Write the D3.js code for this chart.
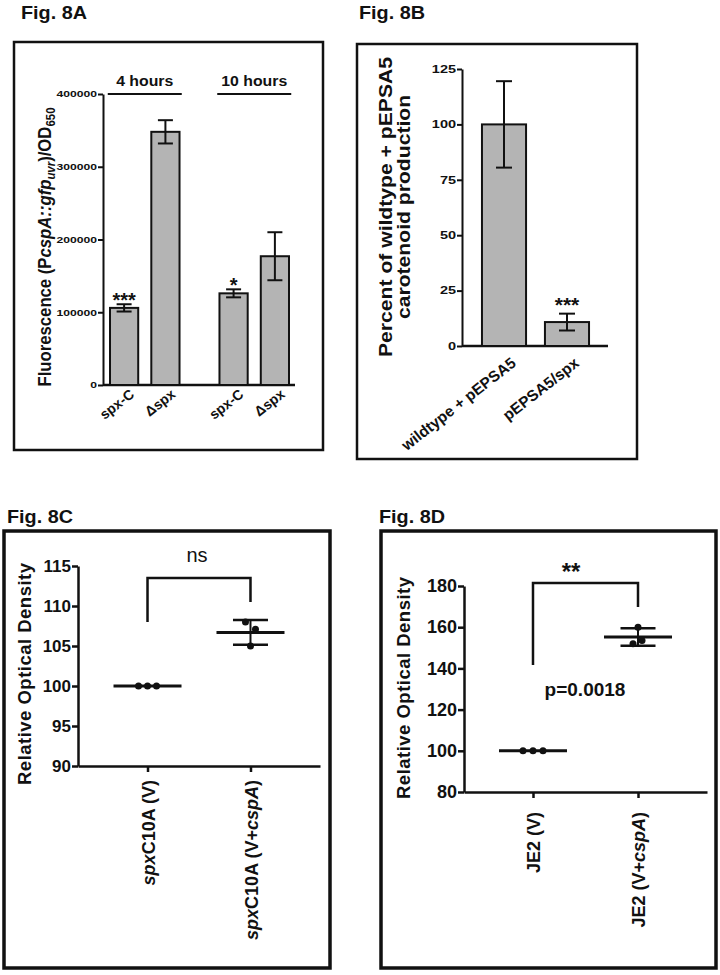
<!DOCTYPE html>
<html><head><meta charset="utf-8">
<script src="https://cdn.jsdelivr.net/npm/d3@7"></script>
<style>body{margin:0;background:#fff;} svg{display:block;}</style>
</head><body>
<script>
// ---------- DATA ----------
// Fig 8A
const groupsA = ["4 hours", "10 hours"];
const strainsA = ["spx-C", "\u0394spx"];
const fluor4h = [106000, 348000];
const fluor4hErr = [5000, 16000];
const fluor10h = [126000, 177000];
const fluor10hErr = [5500, 33000];
const sig4h = ["***", ""];
const sig10h = ["*", ""];
const ticksA = [0, 100000, 200000, 300000, 400000];
// Fig 8B
const catsB = ["wildtype + pEPSA5", "pEPSA5/spx"];
const carotMean = [100, 10.8];
const carotErr = [19.5, 3.8];
const sigB = ["", "***"];
const ticksB = [0, 25, 50, 75, 100, 125];
// Fig 8C
const catsC = ["spxC10A (V)", "spxC10A (V+cspA)"];
const odC_V = [100, 100, 100];
const odC_Vcsp = [108, 107.1, 105];
const ticksC = [90, 95, 100, 105, 110, 115];
// Fig 8D
const catsD = ["JE2 (V)", "JE2 (V+cspA)"];
const odD_V = [100, 100, 100];
const odD_Vcsp = [160, 153.6, 152];
const ticksD = [80, 100, 120, 140, 160, 180];

// ---------- HELPERS ----------
const FF = "'Liberation Sans', Arial, Helvetica, sans-serif";
const svg = d3.select("body").append("svg").attr("width", 720).attr("height", 975);
svg.append("rect").attr("width", 720).attr("height", 975).attr("fill", "#fff");

function stretch(sel, k) {
  sel.each(function () {
    const L = this.getComputedTextLength();
    d3.select(this).attr("textLength", L * k).attr("lengthAdjust", "spacingAndGlyphs");
  });
}
function richLabel(textSel, str) {
  const parts = str.split(/(^spx|cspA)/).filter(s => s.length);
  parts.forEach(p => {
    textSel.append("tspan").text(p).attr("font-style", (p === "spx" || p === "cspA") ? "italic" : null);
  });
}
function panel(x, y, w, h, sw) {
  svg.append("rect").attr("x", x).attr("y", y).attr("width", w).attr("height", h)
    .attr("fill", "none").attr("stroke", "#111").attr("stroke-width", sw);
}
function title(x, y, t) {
  svg.append("text").attr("x", x).attr("y", y).attr("font-family", FF).attr("font-weight", 700)
    .attr("font-size", 18).attr("textLength", 66).attr("lengthAdjust", "spacingAndGlyphs").attr("fill", "#111").text(t);
}
function styleAxis(g, sw, fs, k) {
  g.select(".domain").attr("stroke", "#111").attr("stroke-width", sw);
  g.selectAll(".tick line").attr("stroke", "#111").attr("stroke-width", sw);
  const t = g.selectAll(".tick text").attr("font-family", FF).attr("font-weight", 700)
    .attr("font-size", fs).attr("fill", "#111");
  if (k) stretch(t, k);
}

// ---------- FIG 8A ----------
title(21, 19, "Fig. 8A");
panel(14, 42, 309, 408, 2.5);
{
  const g = svg.append("g");
  const y = d3.scaleLinear().domain([0, 400000]).range([385, 94]);
  const x0 = d3.scaleBand().domain(groupsA).range([110, 289]).paddingInner(0.365);
  const x1 = d3.scaleBand().domain(strainsA).range([0, x0.bandwidth()]).paddingInner(0.317);
  const ax = g.append("g").attr("transform", "translate(103,0)")
    .call(d3.axisLeft(y).tickValues(ticksA).tickSize(5).tickSizeOuter(0).tickPadding(1).tickFormat(d3.format("d")));
  styleAxis(ax, 2, 9, 1.35);
  g.append("line").attr("x1", 103).attr("x2", 295).attr("y1", y(0)).attr("y2", y(0))
    .attr("stroke", "#111").attr("stroke-width", 2.5);
  const rows = [
    { g: groupsA[0], v: fluor4h, e: fluor4hErr, s: sig4h },
    { g: groupsA[1], v: fluor10h, e: fluor10hErr, s: sig10h }
  ];
  rows.forEach(r => {
    const cx0 = x0(r.g) + x0.bandwidth() / 2;
    g.append("line").attr("x1", cx0 - 37).attr("x2", cx0 + 37).attr("y1", 94).attr("y2", 94)
      .attr("stroke", "#111").attr("stroke-width", 2);
    const gt = g.append("text").attr("x", cx0).attr("y", 86).attr("text-anchor", "middle")
      .attr("font-family", FF).attr("font-weight", 700).attr("font-size", 14).attr("fill", "#111").text(r.g);
    stretch(gt, 1.13);
    strainsA.forEach((s, i) => {
      const bx = x0(r.g) + x1(s), bw = x1.bandwidth(), cx = bx + bw / 2;
      g.append("rect").attr("x", bx).attr("y", y(r.v[i])).attr("width", bw).attr("height", y(0) - y(r.v[i]))
        .attr("fill", "#b4b4b4").attr("stroke", "#111").attr("stroke-width", 2);
      g.append("line").attr("x1", cx).attr("x2", cx).attr("y1", y(r.v[i] - r.e[i])).attr("y2", y(r.v[i] + r.e[i]))
        .attr("stroke", "#111").attr("stroke-width", 2);
      [r.v[i] - r.e[i], r.v[i] + r.e[i]].forEach(v => g.append("line").attr("x1", cx - 7.5).attr("x2", cx + 7.5)
        .attr("y1", y(v)).attr("y2", y(v)).attr("stroke", "#111").attr("stroke-width", 2));
      if (r.s[i]) {
        g.append("text").attr("x", cx).attr("y", y(r.v[i] + r.e[i]) + 3).attr("text-anchor", "middle")
          .attr("font-family", FF).attr("font-weight", 700).attr("font-size", 20).attr("fill", "#111").text(r.s[i]);
      }
      g.append("text").attr("transform", `translate(${cx + 11},${396}) rotate(-38)`).attr("text-anchor", "end")
        .attr("font-family", FF).attr("font-weight", 700).attr("font-size", 14).attr("fill", "#111").text(s);
    });
  });
  const yl = g.append("text").attr("transform", "translate(51,247) rotate(-90)").attr("text-anchor", "middle")
    .attr("font-family", FF).attr("font-weight", 700).attr("font-size", 19).attr("fill", "#111");
  yl.append("tspan").text("Fluorescence (P");
  yl.append("tspan").attr("font-style", "italic").text("cspA::gfp");
  yl.append("tspan").attr("font-style", "italic").attr("font-size", 13).attr("dy", 4).text("uvr");
  yl.append("tspan").attr("dy", -4).text(")/OD");
  yl.append("tspan").attr("font-size", 13).attr("dy", 4).text("650");
  yl.attr("textLength", 279).attr("lengthAdjust", "spacingAndGlyphs");
}

// ---------- FIG 8B ----------
title(359, 19, "Fig. 8B");
panel(357, 44, 280, 415, 2.5);
{
  const g = svg.append("g");
  const y = d3.scaleLinear().domain([0, 125]).range([346, 69]);
  const x = d3.scaleBand().domain(catsB).range([462, 609]).paddingInner(0.3).paddingOuter(0.317);
  const ax = g.append("g").attr("transform", "translate(462,0)")
    .call(d3.axisLeft(y).tickValues(ticksB).tickSize(5).tickSizeOuter(0).tickPadding(1));
  styleAxis(ax, 2, 10, 1.45);
  g.append("line").attr("x1", 462).attr("x2", 608).attr("y1", y(0)).attr("y2", y(0))
    .attr("stroke", "#111").attr("stroke-width", 2.5);
  catsB.forEach((c, i) => {
    const bx = x(c), bw = x.bandwidth(), cx = bx + bw / 2;
    g.append("rect").attr("x", bx).attr("y", y(carotMean[i])).attr("width", bw).attr("height", y(0) - y(carotMean[i]))
      .attr("fill", "#b4b4b4").attr("stroke", "#111").attr("stroke-width", 2);
    g.append("line").attr("x1", cx).attr("x2", cx).attr("y1", y(carotMean[i] - carotErr[i])).attr("y2", y(carotMean[i] + carotErr[i]))
      .attr("stroke", "#111").attr("stroke-width", 2);
    [carotMean[i] - carotErr[i], carotMean[i] + carotErr[i]].forEach(v => g.append("line").attr("x1", cx - 8).attr("x2", cx + 8)
      .attr("y1", y(v)).attr("y2", y(v)).attr("stroke", "#111").attr("stroke-width", 2));
    if (sigB[i]) {
      g.append("text").attr("x", cx).attr("y", y(carotMean[i] + carotErr[i]) - 2).attr("text-anchor", "middle")
        .attr("font-family", FF).attr("font-weight", 700).attr("font-size", 21).attr("fill", "#111").text(sigB[i]);
    }
    g.append("text").attr("transform", `translate(${cx + 13},365) rotate(-38)`).attr("text-anchor", "end")
      .attr("font-family", FF).attr("font-weight", 700).attr("font-size", 15.5).attr("fill", "#111").text(c);
  });
  const l1 = g.append("text").attr("transform", "translate(392,207) rotate(-90)").attr("text-anchor", "middle")
    .attr("font-family", FF).attr("font-weight", 700).attr("font-size", 18).attr("fill", "#111").text("Percent of wildtype + pEPSA5");
  const k = 300 / l1.node().getComputedTextLength();
  stretch(l1, k);
  const l2 = g.append("text").attr("transform", "translate(410,207) rotate(-90)").attr("text-anchor", "middle")
    .attr("font-family", FF).attr("font-weight", 700).attr("font-size", 18).attr("fill", "#111").text("carotenoid production");
  stretch(l2, k);
}

// ---------- DOT PLOTS ----------
function dotPlot(o) {
  const g = svg.append("g");
  const y = d3.scaleLinear().domain(o.yDomain).range(o.yRange);
  const x = d3.scalePoint().domain(o.cats).range(o.xRange).padding(o.pad);
  const ax = g.append("g").attr("transform", `translate(${o.xRange[0]},0)`)
    .call(d3.axisLeft(y).tickValues(o.ticks).tickSize(6).tickSizeOuter(0).tickPadding(1));
  styleAxis(ax, 2.5, o.tickFs);
  const bx = g.append("g").attr("transform", `translate(0,${o.yRange[0]})`)
    .call(d3.axisBottom(x).tickSize(6).tickSizeOuter(0).tickFormat(""));
  styleAxis(bx, 2.5, o.tickFs);
  o.series.forEach((vals, i) => {
    const cx = x(o.cats[i]);
    const m = d3.mean(vals), sd = d3.deviation(vals);
    g.append("line").attr("x1", cx - 34).attr("x2", cx + 34).attr("y1", y(m)).attr("y2", y(m))
      .attr("stroke", "#111").attr("stroke-width", 3);
    if (sd > 0) {
      g.append("line").attr("x1", cx).attr("x2", cx).attr("y1", y(m - sd)).attr("y2", y(m + sd))
        .attr("stroke", "#111").attr("stroke-width", 2);
      [m - sd, m + sd].forEach(v => g.append("line").attr("x1", cx - 17.5).attr("x2", cx + 17.5)
        .attr("y1", y(v)).attr("y2", y(v)).attr("stroke", "#111").attr("stroke-width", 2.5));
    }
    vals.forEach((v, j) => {
      g.append("circle").attr("cx", cx + o.jitter[i][j]).attr("cy", y(v)).attr("r", 3.5).attr("fill", "#111");
    });
    const t = g.append("text").attr("transform", `translate(${cx + o.lblDx},${o.lblTop}) rotate(-90)`)
      .attr("text-anchor", "end").attr("font-family", FF).attr("font-weight", 700)
      .attr("font-size", 18).attr("fill", "#111");
    richLabel(t, o.cats[i]);
  });
  const xa = x(o.cats[0]), xb = x(o.cats[1]);
  g.append("path").attr("d", `M${xa},${y(o.bracket[0])}V${y(o.bracket[1])}H${xb}V${y(o.bracket[2])}`)
    .attr("fill", "none").attr("stroke", "#111").attr("stroke-width", 2.5);
  const yl = g.append("text").attr("transform", `translate(${o.ylX},${o.ylY}) rotate(-90)`).attr("text-anchor", "middle")
    .attr("font-family", FF).attr("font-weight", 700).attr("font-size", 18.5).attr("fill", "#111")
    .text("Relative Optical Density");
  yl.attr("textLength", 222).attr("lengthAdjust", "spacing");
  return { g, x, y, xa, xb };
}

// ---------- FIG 8C ----------
title(7, 523, "Fig. 8C");
panel(4, 531, 326, 437, 3.5);
{
  const r = dotPlot({
    cats: catsC, series: [odC_V, odC_Vcsp], yDomain: [90, 115], yRange: [766, 566], xRange: [78, 320], pad: 0.675,
    ticks: ticksC, tickFs: 17, jitter: [[-9, 0, 9], [-5, 5, 0]], lblDx: 7.5, lblTop: 780,
    bracket: [108, 113.5, 110.5], ylX: 31, ylY: 674
  });
  r.g.append("text").attr("x", (r.xa + r.xb) / 2 - 2).attr("y", 562).attr("text-anchor", "middle")
    .attr("font-family", FF).attr("font-size", 20).attr("fill", "#111").text("ns");
}

// ---------- FIG 8D ----------
title(379, 523, "Fig. 8D");
panel(381, 531, 335, 437, 3.5);
{
  const r = dotPlot({
    cats: catsD, series: [odD_V, odD_Vcsp], yDomain: [80, 180], yRange: [792, 586], xRange: [464, 707], pad: 0.657,
    ticks: ticksD, tickFs: 18, jitter: [[-10, 0, 10], [0, 4, -5]], lblDx: 7, lblTop: 812,
    bracket: [141.7, 181.5, 169.8], ylX: 410, ylY: 688
  });
  r.g.append("text").attr("x", 571).attr("y", 580).attr("text-anchor", "middle")
    .attr("font-family", FF).attr("font-weight", 700).attr("font-size", 24).attr("fill", "#111").text("**");
  r.g.append("text").attr("x", 585).attr("y", 696).attr("text-anchor", "middle")
    .attr("font-family", FF).attr("font-weight", 700).attr("font-size", 19).attr("fill", "#111").text("p=0.0018");
}
</script>
</body></html>
